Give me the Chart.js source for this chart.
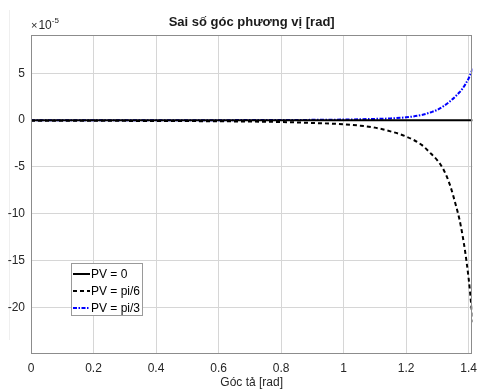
<!DOCTYPE html>
<html>
<head>
<meta charset="utf-8">
<script src="https://cdn.jsdelivr.net/npm/chart.js@4.4.1/dist/chart.umd.min.js"></script>
<style>
  html, body { margin: 0; padding: 0; background: #fff; }
  #wrap { width: 484px; height: 390px; }
</style>
</head>
<body>
<div id="wrap"><canvas id="c" width="484" height="390"></canvas></div>
<script>
// Elevation angle (rad) and azimuth error (units of 1e-5 rad) for three azimuths
const elevation = [0, 0.2, 0.4, 0.6, 0.8, 0.9, 1.0, 1.05, 1.1, 1.15, 1.2, 1.25, 1.28, 1.3, 1.32, 1.34, 1.36, 1.37, 1.38, 1.39, 1.40, 1.405, 1.41, 1.4137];
const errPV0  = [0, 0, 0, 0, 0, 0, 0, 0, 0, 0, 0, 0, 0, 0, 0, 0, 0, 0, 0, 0, 0, 0, 0, 0];
const errPV30 = [-0.06, -0.07, -0.09, -0.12, -0.2, -0.3, -0.44, -0.58, -0.8, -1.2, -1.75, -2.65, -3.6, -4.3, -5.3, -6.9, -9.2, -10.5, -12.2, -14.3, -16.9, -18.5, -20.3, -21.6];
const errPV60 = [0, 0, 0, 0, 0.01, 0.03, 0.06, 0.09, 0.13, 0.18, 0.3, 0.55, 0.85, 1.1, 1.5, 2.0, 2.6, 2.95, 3.35, 3.85, 4.45, 4.85, 5.25, 5.6];
const seriesNames = ['PV = 0', 'PV = pi/6', 'PV = pi/3'];
const xTicks = [0, 0.2, 0.4, 0.6, 0.8, 1, 1.2, 1.4];
const yTicks = [-20, -15, -10, -5, 0, 5];

const FONT = '"Liberation Sans", Arial, Helvetica, sans-serif';

function pts(ys) { return elevation.map((x, i) => ({ x: x, y: ys[i] })); }

// Title, exponent label, axes box and the legend inside the plot
const decor = {
  id: 'decor',
  beforeDraw(chart) {
    const ctx = chart.ctx;
    ctx.save();
    ctx.strokeStyle = '#efefef';
    ctx.lineWidth = 1;
    ctx.beginPath();
    ctx.moveTo(9.5, 10);
    ctx.lineTo(9.5, 340);
    ctx.stroke();
    ctx.restore();
  },
  afterDraw(chart) {
    const ctx = chart.ctx;
    const a = chart.chartArea;
    ctx.save();
    // axes box
    ctx.strokeStyle = '#8c8c8c';
    ctx.lineWidth = 1;
    ctx.strokeRect(Math.round(a.left) + 0.5, Math.round(a.top) + 0.5,
                   Math.round(a.right - a.left) - 1, Math.round(a.bottom - a.top) - 1);

    // title
    ctx.fillStyle = '#1a1a1a';
    ctx.font = 'bold 13px ' + FONT;
    ctx.textAlign = 'center';
    ctx.textBaseline = 'middle';
    ctx.fillText('Sai số góc phương vị [rad]', (a.left + a.right) / 2, 22);

    // exponent of the y axis
    ctx.textAlign = 'left';
    ctx.textBaseline = 'alphabetic';
    ctx.fillStyle = '#262626';
    ctx.font = '11px ' + FONT;
    ctx.fillText('\u00d7', a.left, 29);
    const wx = ctx.measureText('\u00d7').width;
    ctx.font = '12px ' + FONT;
    ctx.fillText('10', a.left + wx + 1, 29);
    const w10 = ctx.measureText('10').width;
    ctx.font = '8px ' + FONT;
    ctx.fillText('-5', a.left + wx + 1 + w10, 23);

    // legend
    const lx = a.left + 40, ly = 263, lw = 71, lh = 52;
    ctx.fillStyle = '#ffffff';
    ctx.fillRect(lx, ly, lw, lh);
    ctx.strokeStyle = '#9a9a9a';
    ctx.lineWidth = 1;
    ctx.strokeRect(lx + 0.5, ly + 0.5, lw, lh);
    ctx.font = '12px ' + FONT;
    ctx.textBaseline = 'middle';
    chart.data.datasets.forEach((ds, i) => {
      const y = ly + 11 + i * 17;
      ctx.save();
      ctx.strokeStyle = ds.borderColor;
      ctx.lineWidth = ds.borderWidth;
      ctx.setLineDash(ds.borderDash || []);
      ctx.beginPath();
      ctx.moveTo(lx + 2, y);
      ctx.lineTo(lx + 19, y);
      ctx.stroke();
      ctx.restore();
      ctx.fillStyle = '#000';
      ctx.fillText(ds.label, lx + 20, y + 1);
    });
    ctx.restore();
  }
};

new Chart(document.getElementById('c'), {
  type: 'scatter',
  data: {
    datasets: [
      { label: seriesNames[0], data: pts(errPV0), showLine: true, borderColor: '#000000', borderWidth: 2, pointRadius: 0, tension: 0 },
      { label: seriesNames[1], data: pts(errPV30), showLine: true, borderColor: '#000000', borderWidth: 2, borderDash: [4, 3], pointRadius: 0, cubicInterpolationMode: 'monotone' },
      { label: seriesNames[2], data: pts(errPV60), showLine: true, borderColor: '#0000ff', borderWidth: 2, borderDash: [4, 1.5, 1.5, 1.5], pointRadius: 0, cubicInterpolationMode: 'monotone' }
    ]
  },
  options: {
    responsive: false,
    animation: false,
    devicePixelRatio: 1,
    layout: { padding: { top: 35, right: 6, left: 0, bottom: 0 } },
    plugins: { legend: { display: false }, tooltip: { enabled: false }, title: { display: false } },
    scales: {
      x: {
        type: 'linear',
        min: 0,
        max: 1.412,
        afterFit(s) { s.height = 36; },
        afterBuildTicks(s) { s.ticks = xTicks.map(v => ({ value: v })); },
        grid: { color: '#d6d6d6', lineWidth: 1, drawTicks: false },
        border: { display: false },
        ticks: { color: '#262626', font: { family: FONT, size: 12 }, padding: 7, maxRotation: 0,
                 callback: v => String(v) },
        title: { display: true, text: 'Góc tả [rad]', color: '#262626', font: { family: FONT, size: 12 }, padding: { top: 0, bottom: 0 } }
      },
      y: {
        type: 'linear',
        min: -25,
        max: 9.1,
        afterFit(s) { s.width = 31; },
        afterBuildTicks(s) { s.ticks = yTicks.map(v => ({ value: v })); },
        grid: { color: '#d6d6d6', lineWidth: 1, drawTicks: false },
        border: { display: false },
        ticks: { color: '#262626', font: { family: FONT, size: 12 }, padding: 6,
                 callback: v => String(v) }
      }
    }
  },
  plugins: [decor]
});
</script>
</body>
</html>
